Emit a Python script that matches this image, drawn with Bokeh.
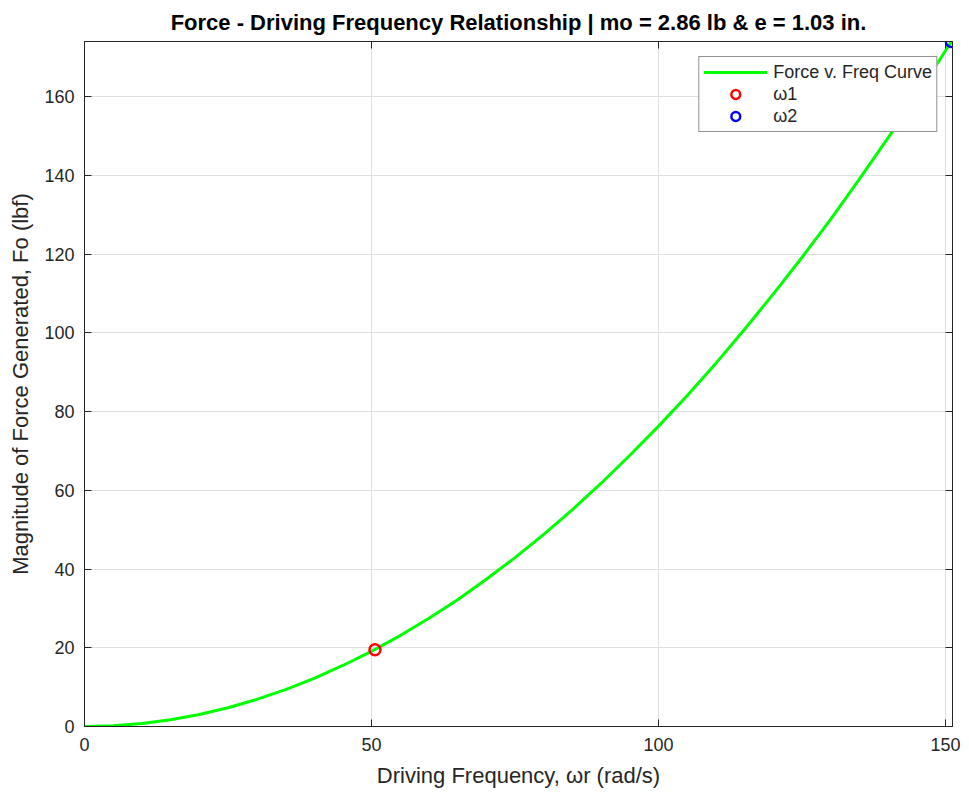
from bokeh.plotting import figure
from bokeh.models import (FixedTicker, LinearAxis, Range1d, Legend, LegendItem,
                          CustomJSTickFormatter)
from bokeh.embed import file_html
from bokeh.resources import INLINE

# Data
freq = [0, 5, 10, 15, 20, 25, 30, 35, 40, 45, 50, 55, 60, 65, 70, 75, 80, 85,
        90, 95, 100, 105, 110, 115, 120, 125, 130, 135, 140, 145, 150, 151]
force = [0, 0.19, 0.76, 1.72, 3.05, 4.77, 6.87, 9.35, 12.2, 15.5, 19.1, 23.1,
         27.5, 32.2, 37.4, 42.9, 48.8, 55.1, 61.8, 68.9, 76.3, 84.1, 92.3,
         100.9, 109.9, 119.2, 128.9, 139.1, 149.6, 160.4, 171.7, 174.0]
w1_x = [50.6]
w1_y = [19.5]
w2_x = [151.0]
w2_y = [174.0]
x_ticks = [0, 50, 100, 150]
y_ticks = [0, 20, 40, 60, 80, 100, 120, 140, 160]

FONT = "Liberation Sans"
AX = "#262626"

p = figure(width=968, height=790, output_backend="svg", toolbar_location=None,
           x_range=Range1d(0, 151.2), y_range=Range1d(0, 174.0),
           min_border_left=84, min_border_right=16, min_border_top=40,
           min_border_bottom=63)

p.title.text = "Force - Driving Frequency Relationship | mo = 2.86 lb & e = 1.03 in."
p.title.align = "center"
p.title.text_font = FONT
p.title.text_font_size = "22px"
p.title.text_font_style = "bold"
p.title.text_color = "#000000"
p.title.standoff = 14

p.outline_line_color = AX
p.outline_line_width = 1
p.background_fill_color = "white"
p.border_fill_color = "white"

for ax in [p.xaxis[0], p.yaxis[0]]:
    ax.axis_line_color = AX
    ax.major_tick_line_color = AX
    ax.major_tick_in = 7
    ax.major_tick_out = 0
    ax.minor_tick_line_color = None
    ax.major_label_text_font = FONT
    ax.major_label_text_font_size = "18px"
    ax.major_label_text_color = AX
    ax.axis_label_text_font = FONT
    ax.axis_label_text_font_size = "22px"
    ax.axis_label_text_font_style = "normal"
    ax.axis_label_text_color = AX

p.xaxis[0].ticker = FixedTicker(ticks=x_ticks)
p.yaxis[0].ticker = FixedTicker(ticks=y_ticks)
p.xaxis[0].axis_label = "Driving Frequency, ωr (rad/s)"
p.yaxis[0].axis_label = "Magnitude of Force Generated, Fo (lbf)"
p.xaxis[0].major_label_standoff = 11
p.yaxis[0].major_label_standoff = 10
p.xaxis[0].axis_label_standoff = 9
p.yaxis[0].axis_label_standoff = 8

blank = CustomJSTickFormatter(code="return '';")
top = LinearAxis(ticker=FixedTicker(ticks=x_ticks), formatter=blank,
                 major_tick_in=7, major_tick_out=0, minor_tick_line_color=None,
                 axis_line_color=AX, major_tick_line_color=AX, major_label_standoff=0)
right = LinearAxis(ticker=FixedTicker(ticks=y_ticks), formatter=blank,
                   major_tick_in=7, major_tick_out=0, minor_tick_line_color=None,
                   axis_line_color=AX, major_tick_line_color=AX, major_label_standoff=0)
p.add_layout(top, "above")
p.add_layout(right, "right")

p.xgrid.ticker = FixedTicker(ticks=x_ticks)
p.ygrid.ticker = FixedTicker(ticks=y_ticks)
p.grid.grid_line_color = "#dfdfdf"
p.grid.grid_line_width = 1

curve = p.line(freq, force, line_color="#00ff00", line_width=3)
r1 = p.scatter(w1_x, w1_y, marker="circle", size=11, fill_color=None,
               line_color="#ff0000", line_width=2.5)
r2 = p.scatter(w2_x, w2_y, marker="circle", size=11, fill_color=None,
               line_color="#0000ff", line_width=2.5)

legend = Legend(items=[LegendItem(label="Force v. Freq Curve", renderers=[curve]),
                       LegendItem(label="ω1", renderers=[r1]),
                       LegendItem(label="ω2", renderers=[r2])],
                location="top_right")
legend.margin = 15
legend.padding = 4
legend.spacing = 0
legend.glyph_width = 64
legend.glyph_height = 22
legend.label_standoff = 6
legend.label_text_font = FONT
legend.label_text_font_size = "18px"
legend.label_text_color = AX
legend.label_height = 22
legend.border_line_color = AX
legend.border_line_width = 1.5
legend.background_fill_alpha = 1.0
p.add_layout(legend)

open("out.html", "w").write(file_html(p, INLINE))
